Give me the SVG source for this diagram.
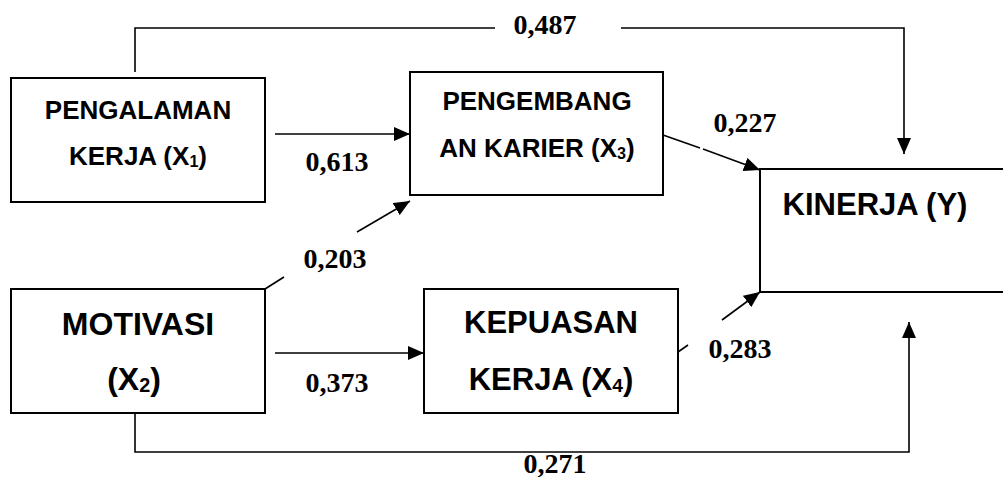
<svg xmlns="http://www.w3.org/2000/svg" width="1003" height="477" viewBox="0 0 1003 477">
<style>
.box{fill:#fff;stroke:#000;stroke-width:2}
.ln{fill:none;stroke:#000;stroke-width:1.6}
.ar{marker-end:url(#ah)}
.t{font-family:"Liberation Sans",Arial,sans-serif;font-weight:bold;text-anchor:middle;fill:#000}
.c{font-family:"Liberation Serif","Times New Roman",serif;font-weight:bold;font-size:28px;text-anchor:middle;fill:#000}
.sub{font-size:0.62em}
</style>
<defs>
<marker id="ah" markerUnits="userSpaceOnUse" markerWidth="16" markerHeight="14" refX="16" refY="7" orient="auto">
<path d="M0,0 L16,7 L0,14 Z" fill="#000"/>
</marker>
</defs>
<rect width="1003" height="477" fill="#fff"/>
<g id="connectors">
<polyline class="ln" points="135,72 135,28 495,28"/>
<polyline class="ln ar" points="621,28 904,28 904,154"/>
<line class="ln ar" x1="275" y1="134" x2="410" y2="134"/>
<line class="ln" x1="265" y1="289" x2="284" y2="277"/>
<line class="ln ar" x1="357" y1="232" x2="410" y2="201"/>
<line class="ln ar" x1="275" y1="353" x2="424" y2="353"/>
<line class="ln" x1="663" y1="135" x2="700" y2="148"/>
<line class="ln ar" x1="703" y1="149" x2="760" y2="170"/>
<line class="ln" x1="678" y1="352" x2="688" y2="345"/>
<line class="ln ar" x1="722" y1="320" x2="760" y2="292"/>
<polyline class="ln ar" points="135,413 135,452 909,452 909,322"/>
</g>
<g id="labels">
<text class="c" x="545" y="34">0,487</text>
<text class="c" x="337" y="171">0,613</text>
<text class="c" x="335" y="268">0,203</text>
<text class="c" x="337" y="392">0,373</text>
<text class="c" x="745" y="132">0,227</text>
<text class="c" x="740" y="358">0,283</text>
<text class="c" x="555" y="473">0,271</text>
</g>
<g id="x1">
<rect class="box" x="11" y="78" width="254" height="124"/>
<text class="t" x="138" y="119" font-size="26">PENGALAMAN</text>
<text class="t" x="138" y="165" font-size="26">KERJA (X<tspan class="sub" dy="2">1</tspan><tspan dy="-2">)</tspan></text>
</g>
<g id="x3">
<rect class="box" x="410" y="72" width="253" height="123"/>
<text class="t" x="537" y="110" font-size="26">PENGEMBANG</text>
<text class="t" x="537" y="157" font-size="26">AN KARIER (X<tspan class="sub" dy="2">3</tspan><tspan dy="-2">)</tspan></text>
</g>
<g id="x2">
<rect class="box" x="11" y="289" width="254" height="124"/>
<text class="t" x="138" y="335" font-size="32">MOTIVASI</text>
<text class="t" x="134" y="390" font-size="32">(X<tspan class="sub" dy="2">2</tspan><tspan dy="-2">)</tspan></text>
</g>
<g id="x4">
<rect class="box" x="424" y="289" width="254" height="124"/>
<text class="t" x="551" y="333" font-size="31">KEPUASAN</text>
<text class="t" x="551" y="390" font-size="31">KERJA (X<tspan class="sub" dy="2">4</tspan><tspan dy="-2">)</tspan></text>
</g>
<g id="y">
<polyline class="ln" style="stroke-width:2" points="1003,169 760,169 760,292 1003,292"/>
<text class="t" x="875" y="215" font-size="31">KINERJA (Y)</text>
</g>
</svg>
